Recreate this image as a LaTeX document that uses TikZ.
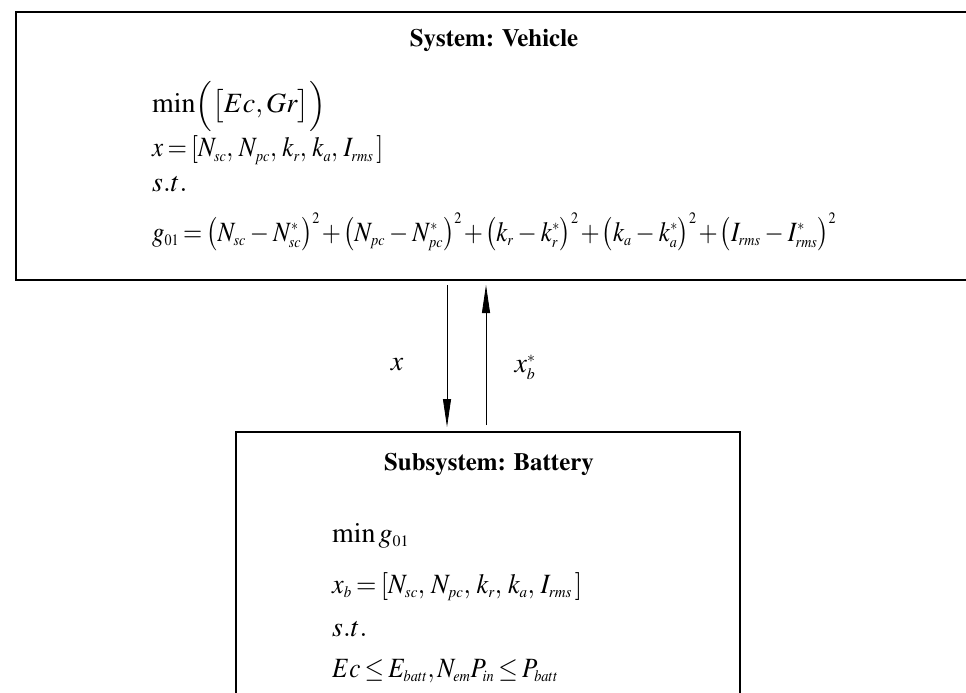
\documentclass[tikz,border=0pt]{standalone}
\usepackage[T1]{fontenc}
\usepackage{mathptmx}
\usepackage{graphicx}
\DeclareMathSizes{28}{28}{16}{12}
\usetikzlibrary{arrows.meta}
\newcommand\eqsetup{\fontsize{28}{34}\selectfont\medmuskip=3mu\relax\thickmuskip=3mu\relax}
\newcommand\pls{\mskip1.5mu\mathord{+}\mskip1.5mu}
\begin{document}
\begin{tikzpicture}[x=1bp,y=-1bp,
  box/.style={draw, line width=2bp, inner sep=0pt, outer sep=0pt, anchor=north west},
  title/.style={font=\fontsize{25}{30}\selectfont\bfseries, anchor=base},
  eqn/.style={font=\eqsetup, anchor=base west, inner sep=0pt},
  lbl/.style={font=\eqsetup, inner sep=0pt},
  arr/.style={line width=0.8bp, -{Triangle[length=28bp,width=8bp]}}]
\useasboundingbox (0,0) rectangle (966,693);
\node[box, minimum width=990bp, minimum height=268bp] (sys) at (16,12) {};
\node[box, minimum width=504bp, minimum height=290bp] (bat) at (236,432) {};
\node[title] (systitle) at (494,47) {System: Vehicle};
\node[eqn] (s1) at (152,113) {$\min\Bigl(\bigl[Ec,Gr\bigr]\Bigr)$};
\node[eqn] (s2) at (152,157) {\resizebox{231bp}{\height}{$x=[N_{sc},\,N_{pc},\,k_r,\,k_a,\,I_{rms}\,]$}};
\node[eqn] (s3) at (152,192) {$s.t.$};
\node[eqn] (s4) at (152,241) {\resizebox{684bp}{\height}{$g_{01}=\bigl(N_{sc}-N_{sc}^*\bigr)^2\pls\bigl(N_{pc}-N_{pc}^*\bigr)^2\pls\bigl(k_r-k_r^*\bigr)^2\pls\bigl(k_a-k_a^*\bigr)^2\pls\bigl(I_{rms}-I_{rms}^*\bigr)^2$}};
\node[title] (battitle) at (489,470) {Subsystem: Battery};
\node[eqn] (b1) at (332,542) {$\min g_{01}$};
\node[eqn] (b2) at (332,593) {\resizebox{250bp}{\height}{$x_b=[N_{sc},\,N_{pc},\,k_r,\,k_a,\,I_{rms}\,]$}};
\node[eqn] (b3) at (332,636) {$s.t.$};
\node[eqn] (b4) at (332,677) {\resizebox{226bp}{\height}{$Ec\le E_{batt},N_{em}P_{in}\le P_{batt}$}};
\coordinate (xd) at (447,0);
\coordinate (xu) at (486,0);
\draw[arr, shorten <=5bp, shorten >=5bp] (sys.south -| xd) -- (bat.north -| xd);
\draw[arr, shorten <=7bp, shorten >=5bp] (bat.north -| xu) -- (sys.south -| xu);
\node[lbl] (lx) at (397,365) {$x$};
\node[lbl] (lxb) at (525,367) {$x_b^*$};
\end{tikzpicture}
\end{document}
